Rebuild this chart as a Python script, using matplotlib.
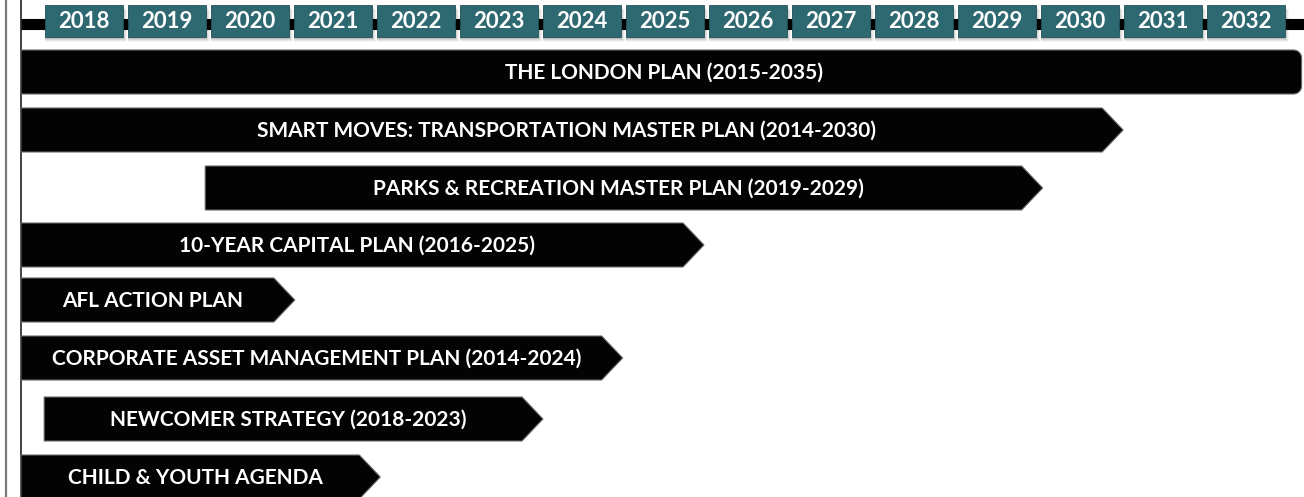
import numpy as np
import matplotlib.pyplot as plt
from matplotlib.patches import Polygon, Rectangle

# ===============================
# Data
# ===============================
years = list(range(2018, 2033))

plans = [
    "THE LONDON PLAN (2015-2035)",
    "SMART MOVES: TRANSPORTATION MASTER PLAN (2014-2030)",
    "PARKS & RECREATION MASTER PLAN (2019-2029)",
    "10-YEAR CAPITAL PLAN (2016-2025)",
    "AFL ACTION PLAN",
    "CORPORATE ASSET MANAGEMENT PLAN (2014-2024)",
    "NEWCOMER STRATEGY (2018-2023)",
    "CHILD & YOUTH AGENDA",
]
# where each bar starts / ends on the year axis (box of year Y spans Y-0.5 .. Y+0.5)
bar_start = [2017.24, 2017.24, 2019.46, 2017.24, 2017.24, 2017.24, 2017.52, 2017.24]
bar_end = [2032.67, 2030.52, 2029.55, 2025.47, 2020.54, 2024.49, 2023.53, 2021.57]
bar_tip = ["round", "arrow", "arrow", "arrow", "arrow", "arrow", "arrow", "arrow"]

# ===============================
# Layout / style
# ===============================
W, H = 1304, 497
PX = 83.0                      # pixels per year
X0 = 2018 - 84 / PX            # year at left edge of the figure
X1 = 2018 + (W - 84) / PX      # year at right edge
row_y = [72, 130, 188, 245, 300, 358, 419, 477]   # row centres (pixels from top)
half_h = 22
chamfer = 21 / PX
teal = "#2e6870"
bar_col = "#030303"
font = ["Lato", "DejaVu Sans"]

fig = plt.figure(figsize=(W / 100, H / 100), dpi=100)
ax = fig.add_axes([0, 0, 1, 1])
ax.set_xlim(X0, X1)
ax.set_ylim(H, 0)
ax.axis("off")

# left frame lines
ax.axvline(2018 + (6 - 84) / PX, color="#7a7a7a", lw=1.6, zorder=1)
ax.axvline(bar_start[0], color="#222222", lw=1.2, zorder=1)

# timeline rail behind the year boxes
ax.plot([bar_start[0], X1], [24, 24], color="black", lw=8, solid_capstyle="butt", zorder=2)

# year boxes with a soft shadow
bw = 0.95
for yr in years:
    for k, a in enumerate([0.10, 0.08, 0.06, 0.04]):
        ax.add_patch(Rectangle((yr - bw / 2 + 0.01, 5 + 2 + k), bw + 0.01 * k, 32,
                               facecolor="black", alpha=a, lw=0, zorder=3))
    ax.add_patch(Rectangle((yr - bw / 2, 5), bw, 32, facecolor=teal,
                           edgecolor="#24545b", lw=0.6, zorder=4))
    ax.text(yr, 21.5, str(yr), color="white", fontsize=16, fontweight="bold",
            family=font, ha="center", va="center", zorder=5)

# plan bars
for i, name in enumerate(plans):
    s, e, yc = bar_start[i], bar_end[i], row_y[i]
    top, bot = yc - half_h, yc + half_h
    if bar_tip[i] == "arrow":
        pts = [(s, top), (e - chamfer, top), (e, yc), (e - chamfer, bot), (s, bot)]
        xc = (s + e - chamfer / 2) / 2
    else:
        r = 8
        ang = np.linspace(0, np.pi / 2, 8)
        arc_top = [(e - r / PX + r / PX * np.sin(a), top + r - r * np.cos(a)) for a in ang]
        arc_bot = [(e - r / PX + r / PX * np.cos(a), bot - r + r * np.sin(a)) for a in ang]
        pts = [(s, top)] + arc_top + arc_bot + [(s, bot)]
        xc = (s + e) / 2 + 3 / PX
    ax.add_patch(Polygon(pts, closed=True, facecolor=bar_col, edgecolor="#6a6a6a",
                         lw=0.8, zorder=3))
    ax.text(xc, yc + 1, name, color="white", fontsize=15, fontweight="bold",
            family=font, ha="center", va="center", zorder=5)

fig.savefig("out.png", dpi=100, facecolor="white")
